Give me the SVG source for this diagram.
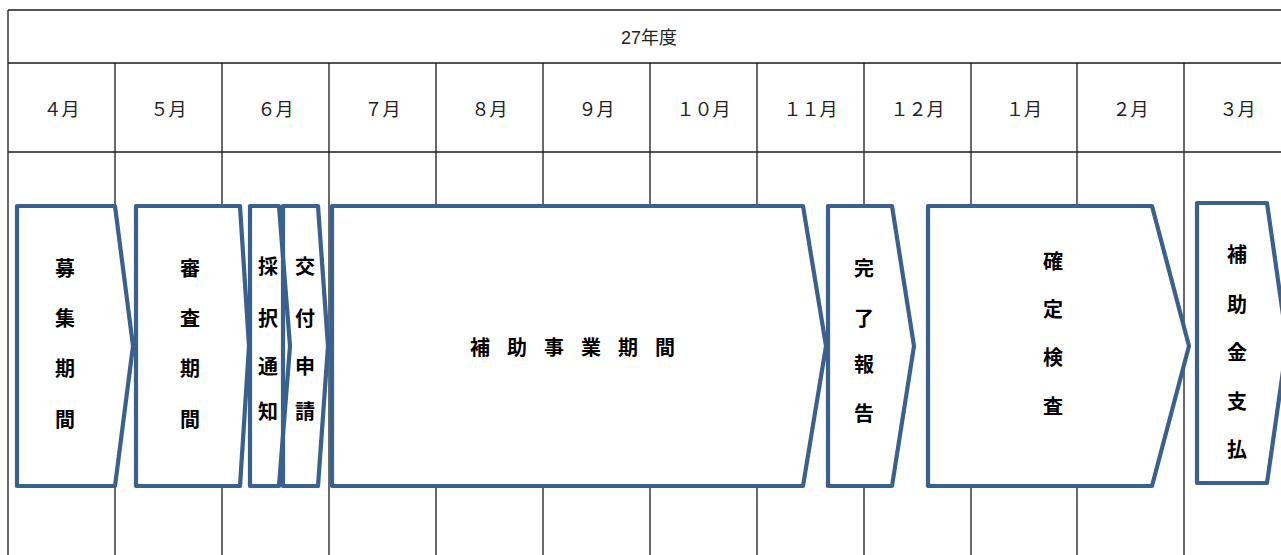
<svg xmlns="http://www.w3.org/2000/svg" width="1281" height="555" viewBox="0 0 1281 555">
<style>
.grid{stroke:#1a1a1a;stroke-width:1.3;fill:none}
.hdr{font-family:"Liberation Sans","Noto Sans CJK JP",sans-serif;font-size:18px;fill:#222;text-anchor:middle;dominant-baseline:central}
.mon{font-family:"Noto Sans CJK JP",sans-serif;font-size:18px;fill:#222;text-anchor:middle;dominant-baseline:central}
.box{fill:#fff;stroke:#3A6090;stroke-width:4.2;stroke-linejoin:round}
.open{fill:none;stroke:#3A6090;stroke-width:4.2;stroke-linejoin:round}
.lbl{font-family:"Noto Sans CJK JP",sans-serif;font-size:20px;font-weight:bold;fill:#000;text-anchor:middle;dominant-baseline:central}
</style>
<rect width="1281" height="555" fill="#fff"/>
<g id="grid" class="grid">
<line x1="8" y1="10" x2="1281" y2="10"/>
<line x1="8" y1="63" x2="1281" y2="63"/>
<line x1="8" y1="152" x2="1281" y2="152"/>
<line x1="8" y1="10" x2="8" y2="555"/>
<line x1="115" y1="63" x2="115" y2="555"/>
<line x1="222" y1="63" x2="222" y2="555"/>
<line x1="329" y1="63" x2="329" y2="555"/>
<line x1="436" y1="63" x2="436" y2="555"/>
<line x1="543" y1="63" x2="543" y2="555"/>
<line x1="650" y1="63" x2="650" y2="555"/>
<line x1="757" y1="63" x2="757" y2="555"/>
<line x1="864" y1="63" x2="864" y2="555"/>
<line x1="971" y1="63" x2="971" y2="555"/>
<line x1="1077" y1="63" x2="1077" y2="555"/>
<line x1="1184" y1="63" x2="1184" y2="555"/>
</g>
<g id="header">
<text class="hdr" x="649" y="38">27年度</text>
<text class="mon" x="61.5" y="108">４月</text>
<text class="mon" x="168.5" y="108">５月</text>
<text class="mon" x="275.5" y="108">６月</text>
<text class="mon" x="382.5" y="108">７月</text>
<text class="mon" x="489.5" y="108">８月</text>
<text class="mon" x="596.5" y="108">９月</text>
<text class="mon" x="703.5" y="108">１０月</text>
<text class="mon" x="810.5" y="108">１１月</text>
<text class="mon" x="917.5" y="108">１２月</text>
<text class="mon" x="1024" y="108">１月</text>
<text class="mon" x="1130.5" y="108">２月</text>
<text class="mon" x="1237.5" y="108">３月</text>
</g>
<g id="connectors"></g>
<g id="n1">
<polygon class="box" points="17,206 115,206 133,346 115,486 17,486"/>
<text class="lbl" x="65" y="267">募</text><text class="lbl" x="65" y="317">集</text><text class="lbl" x="65" y="367">期</text><text class="lbl" x="65" y="418">間</text>
</g>
<g id="n2">
<polygon class="box" points="136,206 240,206 249,346 240,486 136,486"/>
<text class="lbl" x="190" y="267">審</text><text class="lbl" x="190" y="317">査</text><text class="lbl" x="190" y="367">期</text><text class="lbl" x="190" y="418">間</text>
</g>
<g id="n3">
<polygon class="box" points="250,206 279,206 290,346 279,486 250,486"/>
<text class="lbl" x="268" y="265">採</text><text class="lbl" x="268" y="317">択</text><text class="lbl" x="268" y="365">通</text><text class="lbl" x="268" y="410">知</text>
</g>
<g id="n4">
<polygon class="open" points="283,206 318,206 328,346 318,486 283,486"/>
<text class="lbl" x="305" y="265">交</text><text class="lbl" x="305" y="317">付</text><text class="lbl" x="305" y="365">申</text><text class="lbl" x="305" y="410">請</text>
</g>
<g id="n5">
<polygon class="box" points="332,206 803,206 826,346 803,486 332,486"/>
<text class="lbl" x="581" y="346" letter-spacing="17">補助事業期間</text>
</g>
<g id="n6">
<polygon class="box" points="828,206 892,206 914,346 892,486 828,486"/>
<text class="lbl" x="864" y="267">完</text><text class="lbl" x="864" y="317">了</text><text class="lbl" x="864" y="363">報</text><text class="lbl" x="864" y="412">告</text>
</g>
<g id="n7">
<polygon class="box" points="928,206 1152,206 1189,346 1152,486 928,486"/>
<text class="lbl" x="1053" y="260">確</text><text class="lbl" x="1053" y="308">定</text><text class="lbl" x="1053" y="356">検</text><text class="lbl" x="1053" y="405">査</text>
</g>
<g id="n8">
<polygon class="box" points="1197,203 1267,203 1287,343 1267,483 1197,483"/>
<text class="lbl" x="1237" y="253">補</text><text class="lbl" x="1237" y="303">助</text><text class="lbl" x="1237" y="351">金</text><text class="lbl" x="1237" y="400">支</text><text class="lbl" x="1237" y="448">払</text>
</g>
</svg>
